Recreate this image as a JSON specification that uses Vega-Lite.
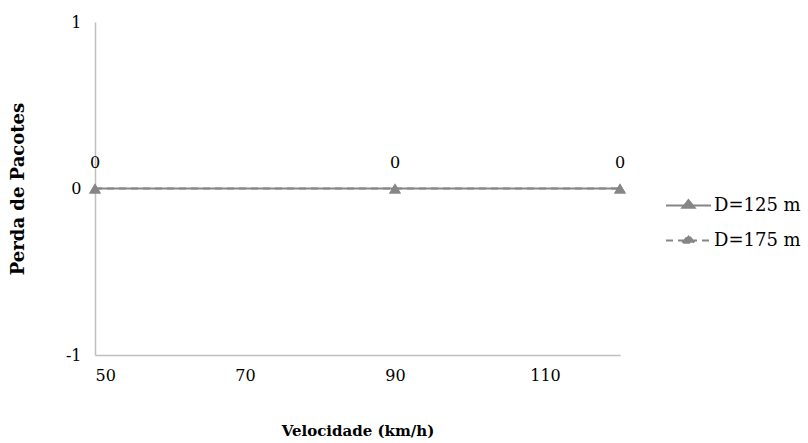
{
  "$schema": "https://vega.github.io/schema/vega-lite/v6.json",
  "width": 525,
  "height": 333,
  "autosize": {"type": "none"},
  "padding": {"left": 95, "top": 22, "right": 188, "bottom": 88},
  "background": "white",
  "config": {
    "font": "DejaVu Serif",
    "view": {"stroke": null},
    "axis": {"labelFont": "DejaVu Serif", "titleFont": "DejaVu Serif", "labelFontSize": 16, "titleFontSize": 15, "labelColor": "black", "titleColor": "black", "titleFontWeight": "bold", "domainColor": "#bfbfbf", "domainWidth": 1.5, "ticks": false, "grid": false},
    "legend": {"labelFont": "DejaVu Serif", "labelFontSize": 18, "labelColor": "black"}
  },
  "data": {
    "values": [
      {"v": 50, "p": 0, "s": "D=125 m"},
      {"v": 90, "p": 0, "s": "D=125 m"},
      {"v": 120, "p": 0, "s": "D=125 m"},
      {"v": 50, "p": 0, "s": "D=175 m"},
      {"v": 90, "p": 0, "s": "D=175 m"},
      {"v": 120, "p": 0, "s": "D=175 m"}
    ]
  },
  "encoding": {
    "x": {"field": "v", "type": "quantitative", "scale": {"domain": [50, 120], "nice": false, "zero": false}, "axis": {"values": [50, 70, 90, 110], "title": "Velocidade (km/h)", "labelPadding": 12, "titlePadding": 40}},
    "y": {"field": "p", "type": "quantitative", "scale": {"domain": [-1, 1], "nice": false}, "axis": {"values": [-1, 0, 1], "labelExpr": "'' + datum.value", "title": "Perda de Pacotes", "titleFontSize": 18, "labelPadding": 14, "titlePadding": 38}}
  },
  "layer": [
    {
      "mark": {"type": "line", "color": "#868686", "strokeWidth": 2},
      "encoding": {
        "strokeDash": {
          "field": "s", "type": "nominal",
          "scale": {"domain": ["D=125 m", "D=175 m"], "range": [[1, 0], [7, 5]]},
          "legend": {
            "title": null, "orient": "none", "legendX": 570, "legendY": 160,
            "symbolType": "M-1,0L1,0M-0.27,0.1L0,-0.24L0.27,0.1Z",
            "symbolSize": 2025, "symbolStrokeWidth": 2, "rowPadding": 2, "labelOffset": 2,
            "symbolFillColor": "#868686", "symbolStrokeColor": "#868686",
            "encode": {"symbols": {"update": {"fill": {"value": "#868686"}, "stroke": {"value": "#868686"}, "opacity": {"value": 1}}}}
          }
        }
      }
    },
    {
      "mark": {"type": "point", "shape": "triangle-up", "filled": true, "color": "#868686", "size": 140, "opacity": 1},
      "encoding": {"detail": {"field": "s"}}
    },
    {
      "transform": [{"filter": "datum.s === 'D=125 m'"}],
      "mark": {"type": "text", "dy": -26, "fontSize": 16, "font": "DejaVu Serif", "color": "black"},
      "encoding": {"text": {"field": "p", "type": "quantitative"}}
    }
  ]
}
